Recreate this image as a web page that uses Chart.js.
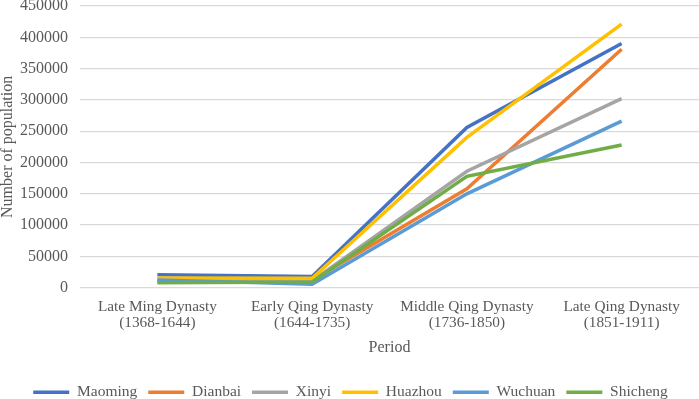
<!DOCTYPE html>
<html>
<head>
<meta charset="utf-8">
<script src="https://cdn.jsdelivr.net/npm/chart.js@4"></script>
<style>
  html, body { margin: 0; padding: 0; background: #fff; overflow: hidden; }
  #wrap { width: 699px; height: 399px; }
</style>
</head>
<body>
<div id="wrap"><canvas id="popChart"></canvas></div>
<script>
// Periods on the x axis (two-line labels)
const periods = [
    ['Late Ming Dynasty', '(1368-1644)'],
    ['Early Qing Dynasty', '(1644-1735)'],
    ['Middle Qing Dynasty', '(1736-1850)'],
    ['Late Qing Dynasty', '(1851-1911)']
];

// Population per county
const maoming  = [20500, 18000, 256000, 390000];
const dianbai  = [11000, 12000, 158000, 381000];
const xinyi    = [13000, 11000, 186000, 302000];
const huazhou  = [15500, 15000, 240000, 421000];
const wuchuan  = [12500, 5500, 150000, 266000];
const shicheng = [8000, 9000, 178000, 228000];

const yTicks = [0, 50000, 100000, 150000, 200000, 250000, 300000, 350000, 400000, 450000];

const textColor = '#595959';
const fontFamily = "'Liberation Serif', 'Times New Roman', serif";

function series(label, data, color, order) {
    return {
        label: label,
        data: data,
        borderColor: color,
        backgroundColor: color,
        borderWidth: 3.5,
        pointRadius: 0,
        pointHoverRadius: 0,
        tension: 0,
        order: order  // later series drawn on top, like the original
    };
}

const ctx = document.getElementById('popChart').getContext('2d');
const chart = new Chart(ctx, {
    type: 'line',
    data: {
        labels: periods,
        datasets: [
            series('Maoming', maoming, '#4472C4', 6),
            series('Dianbai', dianbai, '#ED7D31', 5),
            series('Xinyi', xinyi, '#A5A5A5', 4),
            series('Huazhou', huazhou, '#FFC000', 3),
            series('Wuchuan', wuchuan, '#5B9BD5', 2),
            series('Shicheng', shicheng, '#70AD47', 1)
        ]
    },
    options: {
        responsive: true,
        maintainAspectRatio: false,
        animation: false,
        layout: { padding: { left: 0, right: -2, top: 6, bottom: -11 } },
        plugins: {
            tooltip: { enabled: false },
            legend: {
                position: 'bottom',
                labels: {
                    usePointStyle: true,
                    pointStyle: 'line',
                    pointStyleWidth: 36,
                    boxHeight: 16,
                    padding: 11,
                    color: textColor,
                    font: { family: fontFamily, size: 15.5 },
                    sort: (a, b) => a.datasetIndex - b.datasetIndex
                }
            }
        },
        scales: {
            x: {
                offset: true,
                grid: { display: false, drawTicks: false, offset: true },
                border: { display: false },
                ticks: {
                    color: textColor,
                    font: { family: fontFamily, size: 15.3, lineHeight: 1.0 },
                    padding: 12,
                    maxRotation: 0,
                    autoSkip: false
                },
                title: {
                    display: true,
                    text: 'Period',
                    color: textColor,
                    font: { family: fontFamily, size: 16 },
                    padding: { top: -4, bottom: 16 }
                }
            },
            y: {
                min: 0,
                max: 450000,
                afterBuildTicks: (axis) => {
                    axis.ticks = yTicks.map(v => ({ value: v }));
                },
                afterFit: (axis) => {
                    axis.width = 80;
                    axis.paddingTop = 0;
                },
                grid: { color: '#D9D9D9', lineWidth: 1.3, drawTicks: false },
                border: { display: false },
                ticks: {
                    color: textColor,
                    font: { family: fontFamily, size: 16 },
                    padding: 12,
                    callback: (v) => String(v)
                },
                title: {
                    display: true,
                    text: 'Number of population',
                    color: textColor,
                    font: { family: fontFamily, size: 16, lineHeight: 1.0 },
                    padding: 0
                }
            }
        }
    }
});
</script>
</body>
</html>
